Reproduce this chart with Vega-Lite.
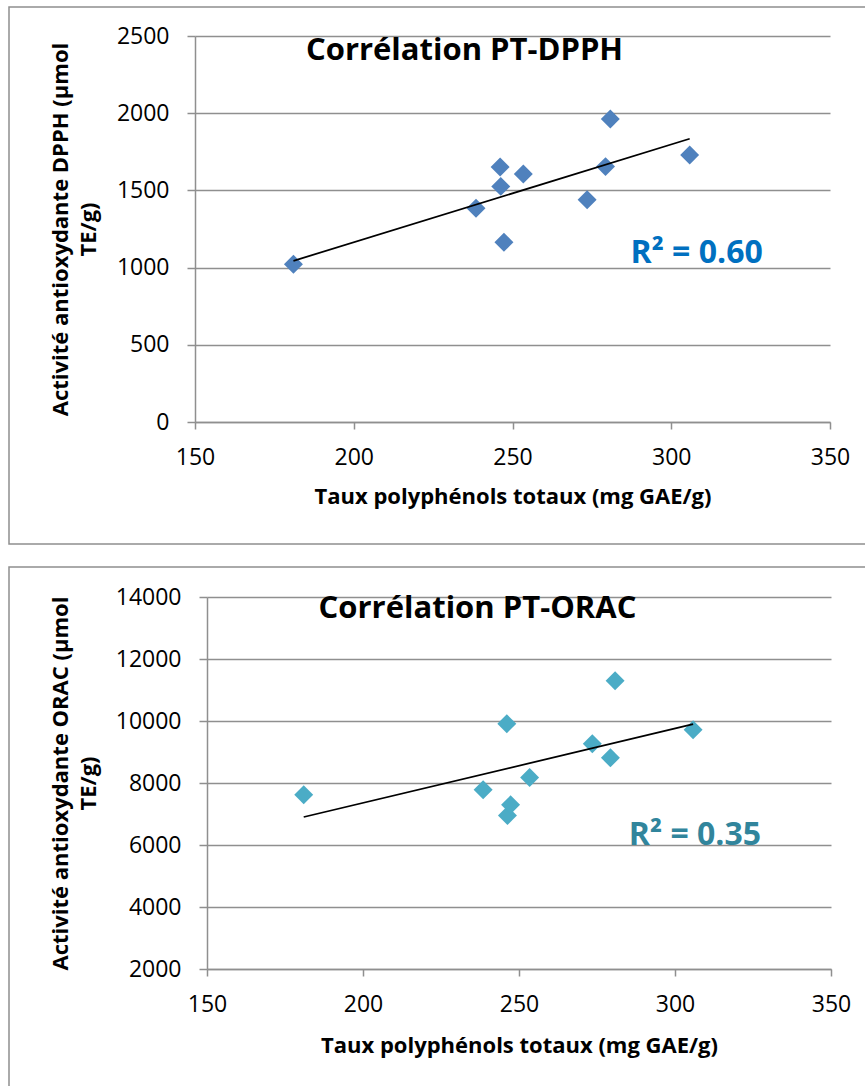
{
  "$schema": "https://vega.github.io/schema/vega-lite/v6.json",
  "padding": {"left": 8, "top": 6, "right": 0, "bottom": 0},
  "background": "white",
  "spacing": 21,
  "datasets": {
    "pts": [
      {"pt": 181.0, "dpph": 1022, "orac": 7618},
      {"pt": 238.5, "dpph": 1385, "orac": 7780},
      {"pt": 246.1, "dpph": 1651, "orac": 9910},
      {"pt": 246.3, "dpph": 1526, "orac": 6951},
      {"pt": 247.3, "dpph": 1164, "orac": 7295},
      {"pt": 253.4, "dpph": 1606, "orac": 8178},
      {"pt": 273.5, "dpph": 1439, "orac": 9265},
      {"pt": 279.3, "dpph": 1654, "orac": 8813},
      {"pt": 280.8, "dpph": 1963, "orac": 11299},
      {"pt": 305.8, "dpph": 1729, "orac": 9717}
    ]
  },
  "config": {
    "view": {"stroke": "#8f8f8f", "strokeWidth": 1.5},
    "font": "Open Sans",
    "axis": {
      "domainColor": "#8f8f8f", "domainWidth": 1.5,
      "tickColor": "#8f8f8f", "tickWidth": 1.5,
      "gridColor": "#8f8f8f", "gridWidth": 1.5,
      "labelFont": "Open Sans", "labelFontSize": 23, "labelColor": "#000000",
      "titleFont": "Open Sans", "titleFontSize": 22, "titleFontWeight": "bold", "titleColor": "#000000",
      "labelOverlap": false, "labelBound": false, "labelFlush": false, "format": "d"
    },
    "axisX": {"grid": false, "tickSize": 7, "labelPadding": 17, "titleBaseline": "alphabetic"},
    "axisY": {"grid": true, "tickSize": 8, "labelPadding": 18, "titleBaseline": "alphabetic", "titleLineHeight": 28}
  },
  "vconcat": [
    {
      "width": 911,
      "height": 537,
      "data": {"name": "pts"},
      "title": {"text": "Corrélation PT-DPPH", "font": "Open Sans", "fontSize": 31, "fontWeight": "bold", "color": "#000000", "anchor": "middle", "frame": "group", "baseline": "alphabetic", "offset": -84},
      "layer": [
        {
          "mark": {"type": "point", "shape": "diamond", "filled": true, "size": 360, "color": "#4F81BD", "opacity": 1},
          "encoding": {
            "x": {"field": "pt", "type": "quantitative",
              "scale": {"domain": [150, 350], "range": [186, 821], "nice": false, "zero": false},
              "axis": {"values": [150, 200, 250, 300, 350], "offset": -122, "title": "Taux polyphénols totaux (mg GAE/g)", "titleY": 81}},
            "y": {"field": "dpph", "type": "quantitative",
              "scale": {"domain": [0, 2500], "range": [415, 29], "nice": false, "zero": false},
              "axis": {"values": [0, 500, 1000, 1500, 2000, 2500], "offset": -186, "title": ["Activité antioxydante DPPH (µmol", "TE/g)"], "titleX": -128}}
          }
        },
        {
          "transform": [{"regression": "dpph", "on": "pt"}],
          "mark": {"type": "line", "color": "#000000", "strokeWidth": 1.75},
          "encoding": {
            "x": {"field": "pt", "type": "quantitative"},
            "y": {"field": "dpph", "type": "quantitative"}
          }
        },
        {
          "data": {"values": [{"label": "R² = 0.60"}]},
          "mark": {"type": "text", "font": "Open Sans", "fontSize": 32, "fontWeight": "bold", "color": "#0070C0", "align": "center", "baseline": "alphabetic"},
          "encoding": {
            "x": {"datum": 308, "type": "quantitative"},
            "y": {"datum": 1032, "type": "quantitative"},
            "text": {"field": "label"}
          }
        }
      ]
    },
    {
      "width": 937,
      "height": 537,
      "data": {"name": "pts"},
      "title": {"text": "Corrélation PT-ORAC", "font": "Open Sans", "fontSize": 31, "fontWeight": "bold", "color": "#000000", "anchor": "middle", "frame": "group", "baseline": "alphabetic", "offset": -82},
      "layer": [
        {
          "mark": {"type": "point", "shape": "diamond", "filled": true, "size": 360, "color": "#4BACC6", "opacity": 1},
          "encoding": {
            "x": {"field": "pt", "type": "quantitative",
              "scale": {"domain": [150, 350], "range": [198, 822], "nice": false, "zero": false},
              "axis": {"values": [150, 200, 250, 300, 350], "offset": -135, "title": "Taux polyphénols totaux (mg GAE/g)", "titleY": 83}},
            "y": {"field": "orac", "type": "quantitative",
              "scale": {"domain": [2000, 14000], "range": [402, 30], "nice": false, "zero": false},
              "axis": {"values": [2000, 4000, 6000, 8000, 10000, 12000, 14000], "offset": -198, "title": ["Activité antioxydante ORAC (µmol", "TE/g)"], "titleX": -140}}
          }
        },
        {
          "transform": [{"regression": "orac", "on": "pt"}],
          "mark": {"type": "line", "color": "#000000", "strokeWidth": 1.75},
          "encoding": {
            "x": {"field": "pt", "type": "quantitative"},
            "y": {"field": "orac", "type": "quantitative"}
          }
        },
        {
          "data": {"values": [{"label": "R² = 0.35"}]},
          "mark": {"type": "text", "font": "Open Sans", "fontSize": 32, "fontWeight": "bold", "color": "#31859C", "align": "center", "baseline": "alphabetic"},
          "encoding": {
            "x": {"datum": 306.4, "type": "quantitative"},
            "y": {"datum": 6000, "type": "quantitative"},
            "text": {"field": "label"}
          }
        }
      ]
    }
  ]
}
